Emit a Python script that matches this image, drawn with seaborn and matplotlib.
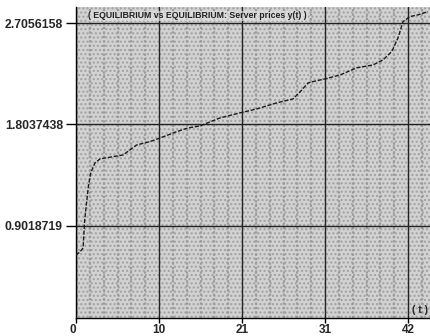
import matplotlib
matplotlib.use("Agg")
import matplotlib.pyplot as plt
import matplotlib.transforms as mtransforms
import seaborn as sns
import numpy as np
import pandas as pd
from matplotlib.patches import Rectangle

# ---- data ----
t_values = [0, 0.5, 0.9, 1.1, 1.56, 1.86, 2.4, 3.04, 4.68, 5.95, 7.68, 9.36,
            10.63, 12.74, 14.17, 15.69, 18.2, 20.75, 22.86, 25.39, 27.45,
            28.34, 29.35, 29.98, 31.5, 33.4, 35.5, 37.57, 38.84, 39.94,
            40.73, 41.37, 42.25, 43.26, 44.53]
price_values = [0.644, 0.671, 0.707, 0.956, 1.252, 1.373, 1.462, 1.498, 1.518,
                1.533, 1.622, 1.652, 1.684, 1.740, 1.773, 1.791, 1.862, 1.907,
                1.942, 1.996, 2.031, 2.093, 2.173, 2.185, 2.209, 2.244, 2.307,
                2.333, 2.378, 2.452, 2.573, 2.718, 2.763, 2.778, 2.807]
x_tick_pos = [0, 10.5, 21, 31.5, 42]
x_tick_labels = ["0", "10", "21", "31", "42"]
y_tick_pos = [0.9018719, 1.8037438, 2.7056158]
y_tick_labels = ["0.9018719", "1.8037438", "2.7056158"]
title_text = "( EQUILIBRIUM vs EQUILIBRIUM: Server prices y(t) )"
x_axis_label = "( t )"

df = pd.DataFrame({"t": t_values, "price": price_values})

sns.set_theme(style="white")
plt.rcParams["font.family"] = ["Liberation Sans", "DejaVu Sans"]

W, H = 430, 336
fig = plt.figure(figsize=(W / 100, H / 100), dpi=100)
fig.patch.set_facecolor("white")
ax = fig.add_axes([76 / W, (H - 318) / H, (W - 76) / W, (318 - 7) / H])
ax.set_facecolor("#d2d2d2")

# stipple texture
ax.add_patch(Rectangle((0, 0), 1, 1, transform=ax.transAxes, facecolor="none",
                       edgecolor="#a0a0a0", hatch="....", linewidth=0, zorder=0.5))

ax.set_xlim(0, 44.78)
ax.set_ylim(0.084, 2.848)

# minor vertical stripes
ax.set_xticks(np.arange(0, 44.78, 1.75), minor=True)
ax.grid(which="minor", axis="x", color="#9a9a9a", linewidth=1.6, linestyle=(0, (1, 1)))
ax.grid(which="major", axis="both", color="#222222", linewidth=1.0)
ax.set_axisbelow(True)

sns.lineplot(data=df, x="t", y="price", ax=ax, color="#1a1a1a", linewidth=1.0,
             linestyle=(0, (3, 1.2)), zorder=5)

ax.set_xticks(x_tick_pos)
ax.set_xticklabels(x_tick_labels, fontsize=8.5, fontweight="bold")
lbl0 = ax.get_xticklabels()[0]
lbl0.set_horizontalalignment("right")
lbl0.set_transform(lbl0.get_transform() + mtransforms.ScaledTranslation(-5 / 100, 0, fig.dpi_scale_trans))
ax.set_yticks(y_tick_pos)
ax.set_yticklabels(y_tick_labels, fontsize=8.8, fontweight="bold")
ax.tick_params(axis="y", which="major", length=7.2, width=1, color="black", pad=2.2, left=True)
ax.tick_params(axis="x", which="major", length=3.6, width=1, color="black", pad=1, bottom=True)
ax.tick_params(which="minor", length=0)
ax.set_xlabel("")
ax.set_ylabel("")

for s in ["top", "right"]:
    ax.spines[s].set_visible(False)
for s in ["left", "bottom"]:
    ax.spines[s].set_color("black")
    ax.spines[s].set_linewidth(1)

ax.text(0.035, 0.972, title_text, transform=ax.transAxes, fontsize=6.3,
        fontweight="bold", va="center", ha="left", color="#222222", zorder=6,
        bbox=dict(facecolor="#e6e6e6", edgecolor="none", pad=0.5, alpha=0.6))
ax.text(0.995, 0.025, x_axis_label, transform=ax.transAxes, fontsize=7.5,
        fontweight="bold", va="center", ha="right", color="#222222", zorder=6)

fig.savefig("out.png", dpi=100)
